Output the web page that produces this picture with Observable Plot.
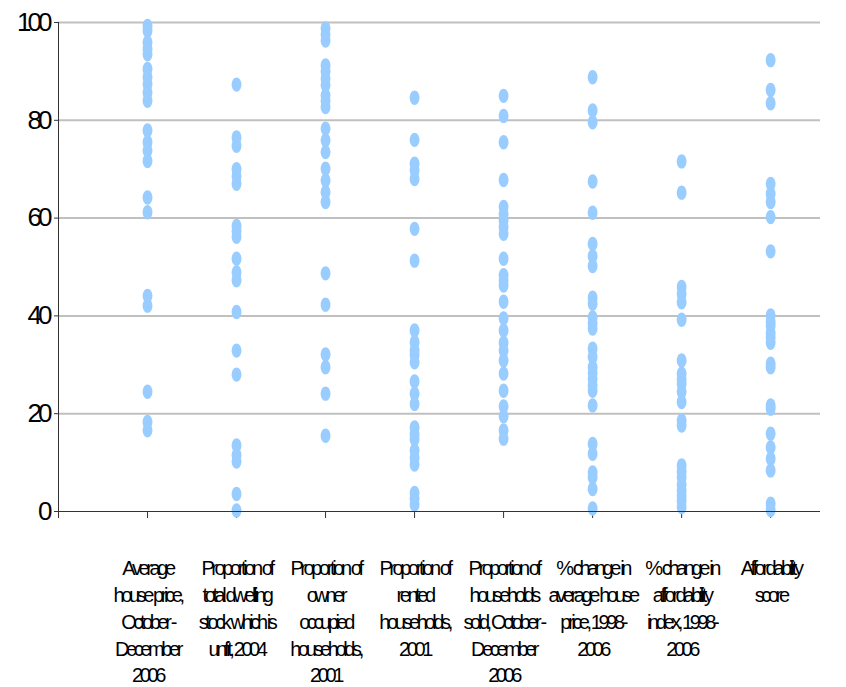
<!DOCTYPE html>
<html>
<head>
<meta charset="utf-8">
<script src="https://cdn.jsdelivr.net/npm/d3@7"></script>
<script src="https://cdn.jsdelivr.net/npm/@observablehq/plot@0.6"></script>
<style>
  html, body { margin: 0; padding: 0; background: #fff; }
</style>
</head>
<body>
<div id="chart"></div>
<script>
// Category labels (x axis)
const categories = [
  "Average\nhouse price,\nOctober -\nDecember\n2006",
  "Proportion of\ntotal dwelling\nstock which is\nunfit, 2004",
  "Proportion of\nowner\noccupied\nhouseholds,\n2001",
  "Proportion of\nrented\nhouseholds,\n2001",
  "Proportion of\nhouseholds\nsold, October -\nDecember\n2006",
  "% change in\naverage house\nprice, 1998-\n2006",
  "% change in\naffordability\nindex, 1998-\n2006",
  "Affordability\nscore"
];

// Values per category
const avgHousePrice = [99.3, 98.3, 95.9, 94.6, 93.5, 90.5, 88.8, 87.4, 85.7, 84.0, 77.9, 75.5, 73.8, 71.7, 64.2, 61.2, 44.1, 42.1, 24.5, 18.3, 16.6];
const unfitStock = [87.3, 76.5, 74.8, 70.0, 68.5, 67.0, 58.4, 57.3, 56.2, 51.7, 48.9, 47.3, 40.8, 32.9, 28.0, 13.5, 11.5, 10.2, 3.6, 0.2];
const ownerOccupied = [98.8, 97.5, 96.3, 91.2, 90.0, 88.5, 87.2, 85.1, 84.0, 82.7, 78.3, 75.9, 73.5, 70.1, 67.7, 65.3, 63.3, 48.7, 42.3, 32.1, 29.5, 24.1, 15.5];
const rentedHouseholds = [84.6, 76.0, 71.1, 69.8, 68.0, 57.8, 51.3, 37.0, 34.6, 33.0, 32.0, 30.5, 26.6, 24.1, 22.0, 17.2, 15.8, 14.8, 12.5, 11.0, 9.6, 3.8, 2.6, 1.4];
const householdsSold = [85.0, 80.9, 75.5, 67.8, 62.3, 60.8, 59.5, 58.2, 56.8, 51.7, 48.3, 47.2, 46.2, 42.9, 39.5, 37.0, 34.5, 32.9, 30.9, 28.2, 24.7, 21.5, 19.5, 16.6, 14.9];
const changeHousePrice = [88.8, 82.0, 79.6, 67.5, 61.1, 54.7, 52.2, 50.2, 43.7, 42.5, 39.7, 38.5, 37.4, 33.3, 31.6, 29.5, 28.3, 27.1, 25.8, 24.7, 21.7, 13.8, 11.8, 8.0, 7.0, 4.6, 0.6];
const changeAffordability = [71.6, 65.2, 45.9, 44.5, 42.8, 39.2, 30.9, 28.2, 27.0, 26.1, 24.5, 22.4, 18.6, 17.6, 9.4, 8.2, 7.0, 5.5, 4.3, 3.2, 2.2, 0.9];
const affordabilityScore = [92.3, 86.2, 83.5, 67.0, 65.0, 63.3, 60.2, 53.2, 40.1, 38.8, 38.0, 36.5, 35.6, 34.5, 30.2, 29.5, 21.7, 21.0, 15.9, 13.1, 10.8, 8.4, 1.6, 0.3];

const yTicks = [0, 20, 40, 60, 80, 100];

const series = [avgHousePrice, unfitStock, ownerOccupied, rentedHouseholds,
                householdsSold, changeHousePrice, changeAffordability, affordabilityScore];
const data = series.flatMap((vals, i) => vals.map(v => ({cat: i + 1, value: v})));

// Ellipse symbol (taller than wide)
const ellipse = {
  draw(context, size) {
    const rx = 4.9, ry = 7.2, k = 0.5523;
    context.moveTo(0, -ry);
    context.bezierCurveTo(k * rx, -ry, rx, -k * ry, rx, 0);
    context.bezierCurveTo(rx, k * ry, k * rx, ry, 0, ry);
    context.bezierCurveTo(-k * rx, ry, -rx, k * ry, -rx, 0);
    context.bezierCurveTo(-rx, -k * ry, -k * rx, -ry, 0, -ry);
    context.closePath();
  }
};

const xTicks = d3.range(0, categories.length + 1);

const chart = Plot.plot({
  width: 846,
  height: 687,
  marginLeft: 58,
  marginRight: 26,
  marginTop: 22,
  marginBottom: 176,
  style: {fontFamily: "'Liberation Sans', Arial, sans-serif", background: "#fff", color: "#000", overflow: "visible"},
  x: {type: "linear", domain: [0, 8.56]},
  y: {domain: [0, 100]},
  marks: [
    Plot.ruleY(yTicks.filter(d => d > 0), {stroke: "#c0c0c0", strokeWidth: 2}),
    Plot.axisY({ticks: yTicks, tickSize: 4, tickPadding: 6, fontSize: 26, tickFormat: d => String(d), label: null}),
    Plot.axisX({ticks: xTicks, tickSize: 7, tickPadding: 38, fontSize: 20, lineHeight: 1.335,
                tickFormat: d => d === 0 ? "" : categories[d - 1], label: null, lineAnchor: "top"}),
    Plot.dot(data, {x: "cat", y: "value", symbol: ellipse, fill: "#99ccff", stroke: null}),
    Plot.ruleX([0], {stroke: "#333"}),
    Plot.ruleY([0], {stroke: "#333"})
  ]
});

const svg = d3.select(chart);
svg.selectAll('g[aria-label="y-axis tick label"] text').attr("letter-spacing", -4);
svg.selectAll('g[aria-label="x-axis tick label"] text').attr("letter-spacing", -3.4);
svg.selectAll('g[aria-label="y-axis tick"], g[aria-label="x-axis tick"]').attr("stroke", "#333");

document.getElementById("chart").appendChild(chart);
</script>
</body>
</html>
